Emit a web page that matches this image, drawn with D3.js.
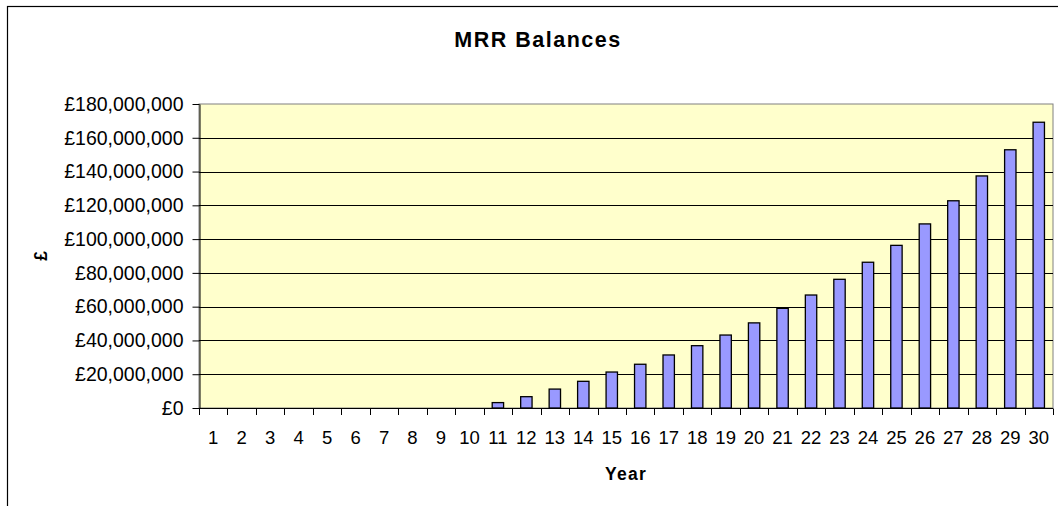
<!DOCTYPE html>
<html>
<head>
<meta charset="utf-8">
<script src="https://cdn.jsdelivr.net/npm/d3@7"></script>
<style>
  html, body { margin: 0; padding: 0; background: #fff; }
  svg { display: block; }
  text { font-family: "Liberation Sans", Arial, sans-serif; fill: #000; }
</style>
</head>
<body>
<svg id="chart" width="1058" height="506"></svg>
<script>
const title = "MRR Balances";
const xTitle = "Year";
const yTitle = "£";
const years = d3.range(1, 31).map(String);
const balances = [0, 0, 0, 0, 0, 0, 0, 0, 0, 0,
  3.2e6, 6.7e6, 11.2e6, 15.8e6, 21.3e6, 25.9e6, 31.4e6, 36.9e6, 43.2e6, 50.4e6,
  59.0e6, 66.9e6, 76.2e6, 86.3e6, 96.3e6, 109.0e6, 122.7e6, 137.4e6, 152.9e6, 169.2e6];
const yTicks = [0, 20e6, 40e6, 60e6, 80e6, 100e6, 120e6, 140e6, 160e6, 180e6];

const svg = d3.select("#chart");
const W = 1058, H = 506;
const plot = { left: 199, right: 1053, top: 104, bottom: 408 };

// Outer chart border (cropped at right/bottom)
svg.append("rect")
  .attr("x", 7.5).attr("y", 6.5)
  .attr("width", W + 20).attr("height", H + 20)
  .attr("fill", "#fff").attr("stroke", "#000").attr("stroke-width", 1.2);

const x = d3.scaleBand().domain(years).range([plot.left, plot.right]).paddingInner(0.6).paddingOuter(0.3);
const xTickScale = d3.scaleLinear().domain([0, years.length]).range([plot.left, plot.right]);
const y = d3.scaleLinear().domain([0, 180e6]).range([plot.bottom, plot.top]);

// Plot area background
svg.append("rect")
  .attr("x", plot.left).attr("y", plot.top)
  .attr("width", plot.right - plot.left).attr("height", plot.bottom - plot.top)
  .attr("fill", "#FFFFCC").attr("stroke", "#808080").attr("stroke-width", 1);

// Gridlines
svg.append("g").selectAll("line")
  .data(yTicks.filter(d => d > 0 && d < 180e6))
  .join("line")
  .attr("x1", plot.left).attr("x2", plot.right)
  .attr("y1", d => Math.round(y(d)) + 0.5).attr("y2", d => Math.round(y(d)) + 0.5)
  .attr("stroke", "#000").attr("stroke-width", 1);

// Bars
svg.append("g").selectAll("rect")
  .data(years.map((yr, i) => ({ yr, v: balances[i] })).filter(d => d.v > 0))
  .join("rect")
  .attr("x", d => x(d.yr))
  .attr("y", d => y(d.v))
  .attr("width", x.bandwidth())
  .attr("height", d => y(0) - y(d.v))
  .attr("fill", "#9999FF").attr("stroke", "#000").attr("stroke-width", 1.3);

// Y axis
const fmt = d => "£" + d3.format(",")(d);
const yAxis = svg.append("g")
  .attr("transform", `translate(${plot.left + 0.5},0)`)
  .call(d3.axisLeft(y).tickValues(yTicks).tickFormat(fmt).tickSize(7).tickSizeOuter(0).tickPadding(9));
yAxis.select(".domain").attr("stroke", "#000");
yAxis.selectAll(".tick line").attr("stroke", "#000");
yAxis.selectAll("text")
  .style("font-family", '"Liberation Sans", Arial, sans-serif')
  .style("font-size", "19.5px").attr("fill", "#000");

// X axis
const xAxisG = svg.append("g").attr("transform", `translate(0,${plot.bottom + 0.5})`);
xAxisG.append("line")
  .attr("x1", plot.left).attr("x2", plot.right)
  .attr("stroke", "#000");
xAxisG.selectAll("line.tick")
  .data(d3.range(0, years.length + 1))
  .join("line").attr("class", "tick")
  .attr("x1", d => Math.round(xTickScale(d)) + 0.5).attr("x2", d => Math.round(xTickScale(d)) + 0.5)
  .attr("y1", 0).attr("y2", 6.5)
  .attr("stroke", "#000");
xAxisG.selectAll("text")
  .data(years)
  .join("text")
  .attr("x", d => x(d) + x.bandwidth() / 2)
  .attr("y", 35.5)
  .attr("text-anchor", "middle")
  .style("font-size", "18.5px")
  .text(d => d);

// Title
svg.append("text")
  .attr("x", 538).attr("y", 47)
  .attr("text-anchor", "middle")
  .style("font-size", "21.5px").style("font-weight", "bold").style("letter-spacing", "1.5px")
  .text(title);

// X title
svg.append("text")
  .attr("x", (plot.left + plot.right) / 2).attr("y", 480)
  .attr("text-anchor", "middle")
  .style("font-size", "17.5px").style("font-weight", "bold").style("letter-spacing", "1.3px")
  .text(xTitle);

// Y title
svg.append("text")
  .attr("transform", `translate(47,${(plot.top + plot.bottom) / 2}) rotate(-90)`)
  .attr("text-anchor", "middle")
  .style("font-size", "17.5px").style("font-weight", "bold")
  .text(yTitle);
</script>
</body>
</html>
